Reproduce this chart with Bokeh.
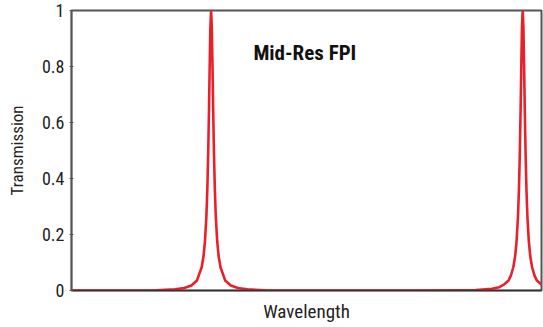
from bokeh.plotting import figure
from bokeh.models import Range1d, FixedTicker, Label
from bokeh.embed import file_html
from bokeh.resources import INLINE

# Wavelength (arbitrary units) and transmission
wavelength = [0, 10, 18, 22, 24, 25.5, 26.7, 27.7, 28.1, 28.4, 28.7, 28.9, 29.1, 29.25,
              29.4, 29.55, 29.7, 29.85, 30.0, 30.15, 30.3, 30.5, 30.7, 31.0, 31.3, 31.7,
              32.7, 33.9, 35.4, 37.4, 41.4, 50, 60, 75, 82, 86, 89.5, 91, 92, 93, 93.5,
              94.0, 94.4, 94.7, 95.0, 95.2, 95.4, 95.55, 95.7, 95.85, 96.0, 96.15, 96.3,
              96.45, 96.6, 96.8, 97.0, 97.3, 97.6, 98.0, 98.5, 99.0, 100]
transmission = [0.0, 0.0, 0.001, 0.004, 0.009, 0.018, 0.036, 0.083, 0.123, 0.176, 0.265,
                0.36, 0.5, 0.64, 0.8, 0.941, 1.0, 0.941, 0.8, 0.64, 0.5, 0.36, 0.265, 0.176,
                0.123, 0.083, 0.036, 0.018, 0.009, 0.004, 0.001, 0.0, 0.0, 0.0, 0.001,
                0.002, 0.006, 0.012, 0.021, 0.036, 0.054, 0.083, 0.123, 0.176, 0.265, 0.36,
                0.5, 0.64, 0.8, 0.941, 1.0, 0.941, 0.8, 0.64, 0.5, 0.36, 0.265, 0.176, 0.123,
                0.083, 0.054, 0.036, 0.021]
y_ticks = [0, 0.2, 0.4, 0.6, 0.8, 1]
title_text = "Mid-Res FPI"

FONT = "Liberation Sans Narrow, Arial Narrow, Roboto Condensed, Roboto, sans-serif"

p = figure(width=543, height=327, output_backend="svg", toolbar_location=None,
           x_range=Range1d(0, 100), y_range=Range1d(0, 1),
           min_border_left=71, min_border_right=2, min_border_top=10, min_border_bottom=37)
p.grid.visible = False
p.background_fill_color = "white"
p.border_fill_color = "white"
p.outline_line_color = "#555555"
p.outline_line_width = 2

p.line(wavelength, transmission, line_color="#e8202a", line_width=2.6, line_join="round")

# axes
p.xaxis.ticker = FixedTicker(ticks=[])
p.xaxis.axis_label = "Wavelength"
p.xaxis.axis_label_text_font = FONT
p.xaxis.axis_label_text_font_style = "normal"
p.xaxis.axis_label_text_font_size = "19px"
p.xaxis.axis_label_text_color = "#222222"
p.xaxis.axis_label_standoff = 9
p.xaxis.axis_line_color = "#333333"
p.xaxis.axis_line_width = 1.5
p.xaxis.major_tick_line_color = None
p.xaxis.minor_tick_line_color = None

p.yaxis.ticker = FixedTicker(ticks=y_ticks)
p.yaxis.axis_label = "Transmission"
p.yaxis.axis_label_text_font = FONT
p.yaxis.axis_label_text_font_style = "normal"
p.yaxis.axis_label_text_font_size = "17px"
p.yaxis.axis_label_text_color = "#222222"
p.yaxis.axis_label_standoff = 12
p.yaxis.major_label_text_font = FONT
p.yaxis.major_label_text_font_size = "18px"
p.yaxis.major_label_text_color = "#222222"
p.yaxis.major_label_standoff = 5
p.yaxis.axis_line_color = "#555555"
p.yaxis.axis_line_width = 1.5
p.yaxis.major_tick_in = 2
p.yaxis.major_tick_out = 2
p.yaxis.major_tick_line_color = "#555555"
p.yaxis.minor_tick_line_color = None

p.add_layout(Label(x=38.7, y=0.85, text=title_text, text_align="left",
                   text_baseline="alphabetic", text_font=FONT, text_font_style="bold",
                   text_font_size="21px", text_color="#111111"))

open("out.html", "w").write(file_html(p, INLINE))
